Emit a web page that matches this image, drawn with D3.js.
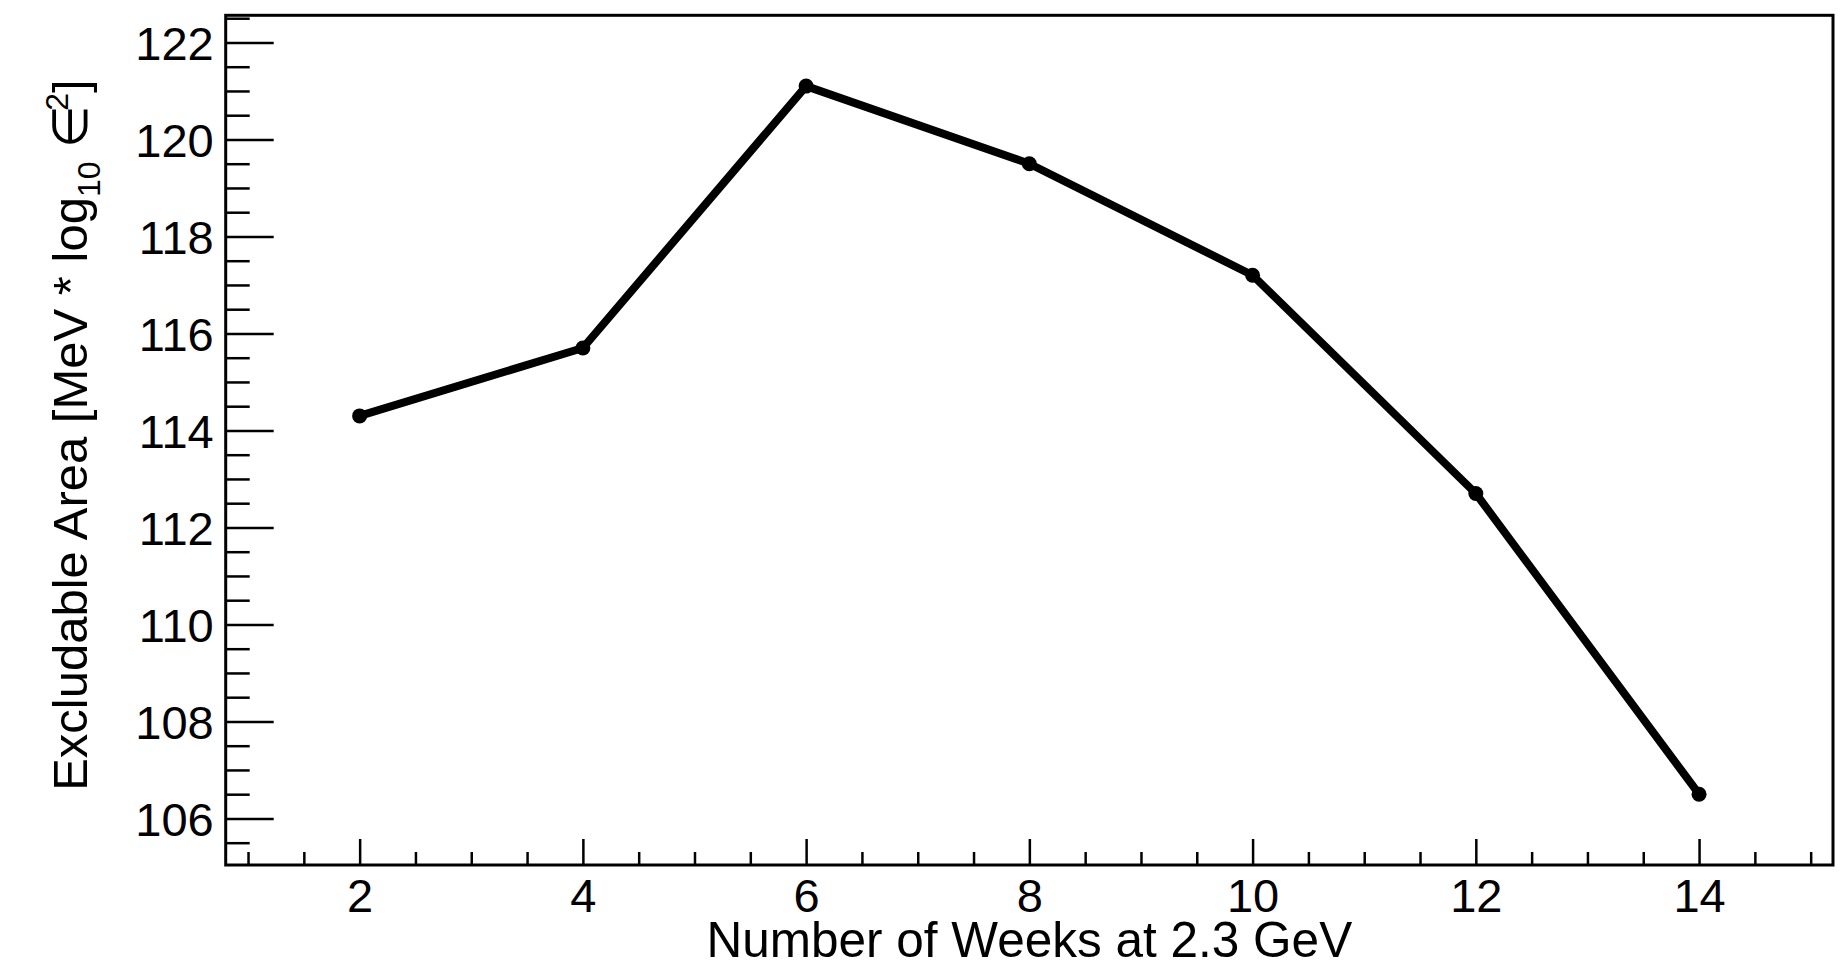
<!DOCTYPE html>
<html>
<head>
<meta charset="utf-8">
<script src="https://cdn.jsdelivr.net/npm/d3@7"></script>
<style>
  html, body { margin: 0; padding: 0; background: #fff; }
  svg { display: block; }
  text { font-family: "Liberation Sans", Arial, Helvetica, sans-serif; fill: #000; }
</style>
</head>
<body>
<svg id="chart" width="1840" height="964"></svg>
<script>
// Data
const weeks = [2, 4, 6, 8, 10, 12, 14];
const excludableArea = [114.3, 115.7, 121.1, 119.5, 117.2, 112.7, 106.5];
const xMajorTicks = [2, 4, 6, 8, 10, 12, 14];
const yMajorTicks = [106, 108, 110, 112, 114, 116, 118, 120, 122];
const xTitle = "Number of Weeks at 2.3 GeV";

const plotL = 225.7, plotR = 1833, plotT = 15.3, plotB = 865;

const svg = d3.select("#chart");

const x = d3.scaleLinear().domain([0.8, 15.2]).range([plotL, plotR]);
const y = d3.scaleLinear().domain([105.04, 122.56]).range([plotB, plotT]);

const xMinor = d3.range(1, 15.01, 0.5).filter(v => !xMajorTicks.includes(v));
const yMinor = d3.range(105.5, 122.51, 0.5).filter(v => !yMajorTicks.includes(v));

// Frame
svg.append("rect")
  .attr("x", plotL).attr("y", plotT)
  .attr("width", plotR - plotL).attr("height", plotB - plotT)
  .attr("fill", "none").attr("stroke", "#000").attr("stroke-width", 3);

// X axis minor
svg.append("g")
  .attr("transform", `translate(0,${plotB})`)
  .call(d3.axisBottom(x).tickValues(xMinor).tickSize(-13).tickFormat(""))
  .call(g => g.select(".domain").remove())
  .call(g => g.selectAll("line").attr("stroke-width", 2.5));

// X axis major
svg.append("g")
  .attr("transform", `translate(0,${plotB})`)
  .call(d3.axisBottom(x).tickValues(xMajorTicks).tickSize(-26).tickPadding(14).tickFormat(d3.format("d")))
  .call(g => g.select(".domain").remove())
  .call(g => g.selectAll("line").attr("stroke-width", 2.5))
  .call(g => g.selectAll("text").attr("font-size", 47).attr("dy", "0.71em"));

// Y axis minor
svg.append("g")
  .attr("transform", `translate(${plotL},0)`)
  .call(d3.axisLeft(y).tickValues(yMinor).tickSize(-24).tickFormat(""))
  .call(g => g.select(".domain").remove())
  .call(g => g.selectAll("line").attr("stroke-width", 2.5));

// Y axis major
svg.append("g")
  .attr("transform", `translate(${plotL},0)`)
  .call(d3.axisLeft(y).tickValues(yMajorTicks).tickSize(-48).tickPadding(12).tickFormat(d3.format("d")))
  .call(g => g.select(".domain").remove())
  .call(g => g.selectAll("line").attr("stroke-width", 2.5))
  .call(g => g.selectAll("text").attr("font-size", 47).attr("dy", "0.36em"));

// Line
const line = d3.line().x((d, i) => x(weeks[i])).y(d => y(d));
svg.append("path")
  .datum(excludableArea)
  .attr("d", line)
  .attr("fill", "none")
  .attr("stroke", "#000")
  .attr("stroke-width", 8)
  .attr("stroke-linejoin", "round");

svg.append("g").selectAll("circle")
  .data(excludableArea)
  .join("circle")
  .attr("cx", (d, i) => x(weeks[i]))
  .attr("cy", d => y(d))
  .attr("r", 7.5)
  .attr("fill", "#000");

// X title
svg.append("text")
  .attr("x", (plotL + plotR) / 2)
  .attr("y", 957)
  .attr("text-anchor", "middle")
  .attr("font-size", 49.5)
  .text(xTitle);

// Y title
const yt = svg.append("text")
  .attr("transform", `translate(87,${(plotT + plotB) / 2 - 5}) rotate(-90)`)
  .attr("text-anchor", "middle")
  .attr("font-size", 49);
yt.append("tspan").text("Excludable Area [MeV * log");
yt.append("tspan").attr("font-size", 32).attr("dy", 13).text("10");
yt.append("tspan").attr("dy", -13).text(" \u2208");
yt.append("tspan").attr("font-size", 32).attr("dy", -19).attr("dx", -6).text("2");
yt.append("tspan").attr("dy", 19).text("]");
</script>
</body>
</html>
